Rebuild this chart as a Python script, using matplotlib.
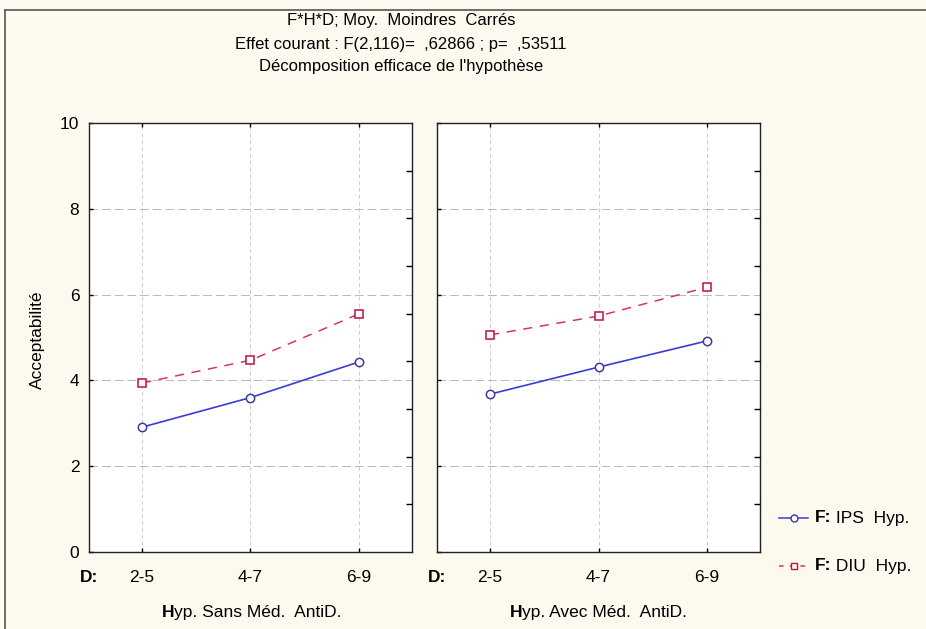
import matplotlib
matplotlib.use('Agg')
import matplotlib.pyplot as plt
from matplotlib.lines import Line2D

plt.rcParams['font.family'] = ['Liberation Sans', 'DejaVu Sans']

# data
doses = ['2-5', '4-7', '6-9']
panels = ['Sans Méd.  AntiD.', 'Avec Méd.  AntiD.']
ips_sans = [2.91, 3.60, 4.43]
diu_sans = [3.94, 4.47, 5.55]
ips_avec = [3.68, 4.31, 4.92]
diu_avec = [5.06, 5.50, 6.17]
series = {'IPS  Hyp.': [ips_sans, ips_avec], 'DIU  Hyp.': [diu_sans, diu_avec]}

title_lines = ["F*H*D; Moy.  Moindres  Carrés",
               "Effet courant : F(2,116)=  ,62866 ; p=  ,53511",
               "Décomposition efficace de l'hypothèse"]

bg = '#fcf9ee'
blue = '#3b3bd6'
red = '#d6365a'
fs = 12.5

W, H = 926, 629
fig = plt.figure(figsize=(W / 100, H / 100), dpi=100)
fig.patch.set_facecolor(bg)

# outer frame (left + top)
fig.add_artist(Line2D([5 / W, 5 / W], [0, 1 - 10 / H], color='#555555', lw=1.2))
fig.add_artist(Line2D([5 / W, 1], [1 - 10 / H, 1 - 10 / H], color='#555555', lw=1.2))

for i, line in enumerate(title_lines):
    fig.text(401 / W, 1 - (21 + i * 23) / H, line, ha='center', va='center', fontsize=12)

lefts = [89, 437]
bottom = 1 - 552 / H
height = 429 / H
width = 323 / W
x = list(range(len(doses)))

for p, lft in enumerate(lefts):
    ax = fig.add_axes([lft / W, bottom, width, height])
    ax.set_facecolor('white')
    ax.plot(x, series['IPS  Hyp.'][p], '-', color=blue, lw=1.2, marker='o', ms=6,
            mfc='white', mec='#3a3a9a', mew=1.1, zorder=3)
    ax.plot(x, series['DIU  Hyp.'][p], '--', color=red, lw=1.1, dashes=(6, 5), marker='s', ms=6,
            mfc='white', mec='#c0103a', mew=1.1, zorder=3)
    ax.set_xlim(-0.49, 2.49)
    ax.set_ylim(0, 10)
    ax.set_yticks([0, 2, 4, 6, 8, 10])
    ax.set_xticks(x)
    ax.set_xticklabels(doses, fontsize=fs)
    ax.grid(axis='y', color='#b8b8b8', ls=(0, (9, 4)), lw=0.7)
    ax.grid(axis='x', color='#cccccc', ls=(0, (4, 3)), lw=0.7)
    ax.tick_params(axis='x', direction='in', length=3, top=True, pad=13, width=1)
    ax.tick_params(axis='y', direction='in', length=3, width=1, labelsize=fs, pad=7)
    if p == 1:
        ax.tick_params(axis='y', labelleft=False)
    for s in ax.spines.values():
        s.set_linewidth(1.0)
        s.set_color('#222222')
    # secondary right-hand scale ticks
    ax2 = ax.twinx()
    ax2.set_ylim(0, 9)
    ax2.set_yticks(range(1, 9))
    ax2.tick_params(axis='y', direction='in', length=4, width=1, labelright=False)
    ax2.spines[:].set_visible(False)

    fig.text(lft / W, 1 - 578 / H, 'D:', ha='center', va='center', fontsize=fs, fontweight='bold')
    t = fig.text((lft + 73) / W, 1 - 617 / H, 'H', ha='left', va='baseline',
                 fontsize=fs, fontweight='bold')
    ax.annotate('yp. ' + panels[p], xy=(1, 0), xycoords=t, va='bottom', ha='left', fontsize=fs)

fig.text(37 / W, 1 - 340 / H, 'Acceptabilité', rotation=90, ha='center', va='center', fontsize=fs)

# legend at the right
leg_styles = [('IPS  Hyp.', '-', blue, 'o', '#3a3a9a', 518), ('DIU  Hyp.', '--', red, 's', '#c0103a', 566)]
for name, ls, col, mk, mec, yy in leg_styles:
    yf = 1 - yy / H
    fig.add_artist(Line2D([779 / W, 808 / W], [yf, yf], color=col, ls=ls, lw=1.1,
                          dashes=(3, 4) if ls == '--' else (None, None)))
    fig.add_artist(Line2D([793.5 / W], [yf], marker=mk, ms=5, mfc='white', mec=mec, mew=1.0, ls='none'))
    t = fig.text(815 / W, yf, 'F:', ha='left', va='center', fontsize=fs, fontweight='bold')
    plt.annotate(' ' + name, xy=(1, 0.5), xycoords=t, va='center', ha='left', fontsize=fs)

fig.savefig('out.png', dpi=100, facecolor=bg)
